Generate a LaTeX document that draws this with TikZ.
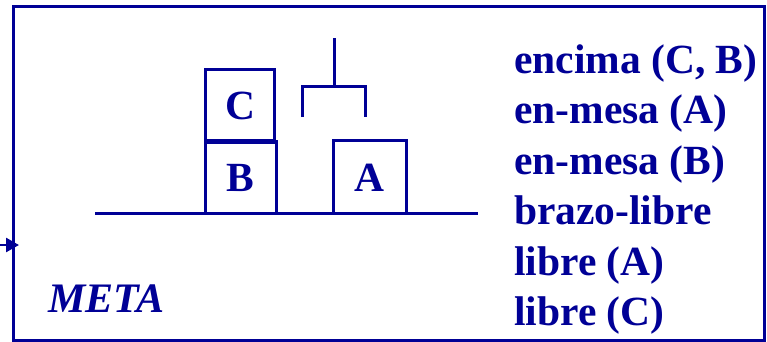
\documentclass[tikz,border=0pt]{standalone}
\usepackage{fontspec}
\setmainfont{Liberation Serif}
\usetikzlibrary{arrows.meta}
\definecolor{dblue}{RGB}{0,0,150}
\begin{document}
\begin{tikzpicture}[x=1pt,y=-1pt,
  every node/.style={text=dblue,font=\fontsize{41.5}{44}\selectfont\bfseries,inner sep=0pt},
  blockbox/.style={draw=dblue,line width=3pt},
  fact/.style={anchor=base west},
  ln/.style={draw=dblue,line width=3pt}]
\useasboundingbox (0,0) rectangle (767,341);
% frame
\draw[draw=dblue,line width=3pt] (13,6) rectangle (764,340);
% entry arrow
\coordinate (arrowstart) at (0,245);
\coordinate (arrowtip) at (19,245);
\draw[dblue,line width=2.6pt,-{Triangle[length=13pt,width=14pt]}] (arrowstart) -- (arrowtip);
% table
\coordinate (tl) at (95,213);
\coordinate (tr) at (478,213);
\draw[ln] (tl) -- (tr);
% blocks
\path[blockbox] (205,69) rectangle (274,141);
\node (C) at (240,106) {C};
\path[blockbox] (205,141) rectangle (276,213);
\node (B) at (240,178) {B};
\draw[dblue,line width=5pt] (205,141) -- (276,141);
\path[blockbox] (333,140) rectangle (406,213);
\node (A) at (369,178) {A};
% gripper
\coordinate (g1) at (334,38);
\coordinate (g2) at (334,86);
\draw[ln] (g1) -- (g2);
\draw[ln,line join=miter] (302,117) -- (302,86) -- (365,86) -- (365,117);
% facts
\node[fact] (f1) at (514,73) {encima (C, B)};
\node[fact] (f2) at (514,123.5) {en-mesa (A)};
\node[fact] (f3) at (514,174) {en-mesa (B)};
\node[fact] (f4) at (514,224.5) {brazo-libre};
\node[fact] (f5) at (514,275) {libre (A)};
\node[fact] (f6) at (514,325.5) {libre (C)};
% goal label
\node[anchor=base west,font=\fontsize{42}{44}\selectfont\bfseries\itshape] (meta) at (48,312) {META};
\end{tikzpicture}
\end{document}
